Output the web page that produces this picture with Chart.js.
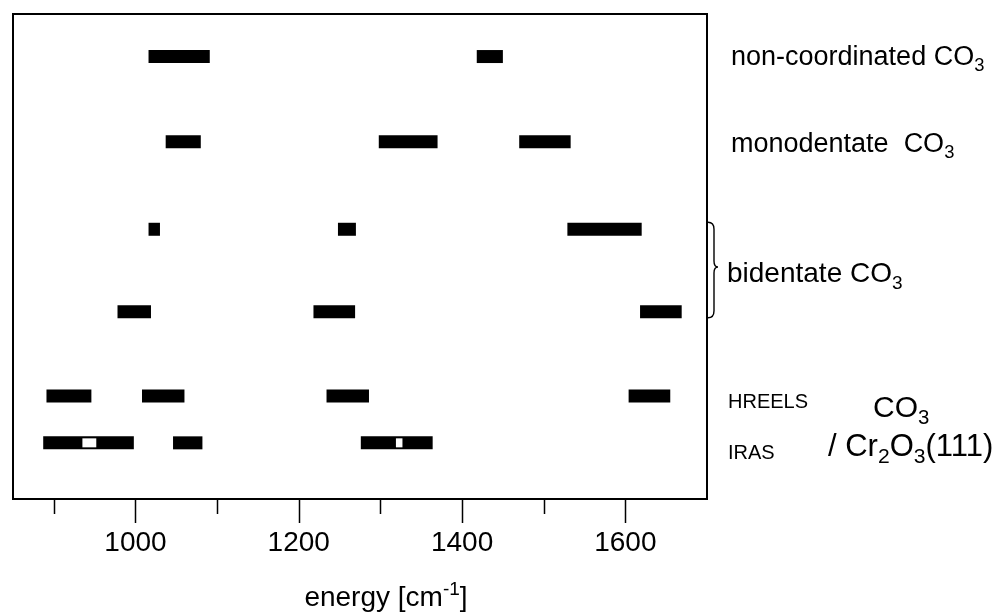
<!DOCTYPE html>
<html>
<head>
<meta charset="UTF-8">
<title>CO3 / Cr2O3(111) bands</title>
<script src="https://cdn.jsdelivr.net/npm/chart.js"></script>
<style>
  html, body { margin: 0; padding: 0; background: #fff; }
  #wrap { width: 1000px; height: 613px; }
</style>
</head>
<body>
<div id="wrap"><canvas id="bands"></canvas></div>
<script>
// band ranges in cm-1, [from, to], one list per row
const nonCoordinated = [[1016, 1091], [1418, 1450]];
const monodentate = [[1037, 1080], [1298, 1370], [1470, 1533]];
const bidentateA = [[1016, 1030], [1248, 1270], [1529, 1620]];
const bidentateB = [[978, 1019], [1218, 1269], [1618, 1669]];
const hreels = [[891, 946], [1008, 1060], [1234, 1286], [1604, 1655]];
const iras = [[887, 998], [1046, 1082], [1276, 1364]];
// small white windows inside the IRAS bands
const irasGaps = [[935, 952], [1319, 1327]];

// vertical slot of each row (top to bottom)
const rowPos = [5.2, 4.2, 3.17, 2.2, 1.21, 0.66];
const rowBands = [nonCoordinated, monodentate, bidentateA, bidentateB, hreels, iras];

const majorTicks = [1000, 1200, 1400, 1600];
const minorTicks = [900, 1100, 1300, 1500];

const FONT = '"Liberation Sans", Arial, Helvetica, sans-serif';

const bandPoints = [];
rowBands.forEach((bands, i) => {
    bands.forEach(b => bandPoints.push({ x: b, y: rowPos[i] }));
});
const gapPoints = irasGaps.map(g => ({ x: g, y: rowPos[5] }));

// text with sub/superscript parts: [[text, ''|'sub'|'sup'], ...]
function drawRich(ctx, x, y, parts, size) {
    ctx.textAlign = 'left';
    ctx.textBaseline = 'alphabetic';
    parts.forEach(([t, kind]) => {
        const s = kind ? size * 0.68 : size;
        const dy = kind === 'sub' ? size * 0.24 : (kind === 'sup' ? -size * 0.4 : 0);
        ctx.font = s + 'px ' + FONT;
        ctx.fillText(t, x, y + dy);
        x += ctx.measureText(t).width;
    });
    return x;
}

function richWidth(ctx, parts, size) {
    let w = 0;
    parts.forEach(([t, kind]) => {
        ctx.font = (kind ? size * 0.68 : size) + 'px ' + FONT;
        w += ctx.measureText(t).width;
    });
    return w;
}

const decorations = {
    id: 'decorations',
    afterDraw(chart) {
        const ctx = chart.ctx;
        const { left, right, top, bottom } = chart.chartArea;
        const xs = chart.scales.x;
        const ys = chart.scales.y;
        ctx.save();
        ctx.strokeStyle = '#000';
        ctx.fillStyle = '#000';

        // frame
        ctx.lineWidth = 2;
        ctx.strokeRect(left, top, right - left, bottom - top);

        // ticks below the axis
        ctx.lineWidth = 1.5;
        ctx.beginPath();
        majorTicks.forEach(v => {
            const px = Math.round(xs.getPixelForValue(v)) + 0.5;
            ctx.moveTo(px, bottom); ctx.lineTo(px, bottom + 24);
        });
        minorTicks.forEach(v => {
            const px = Math.round(xs.getPixelForValue(v)) + 0.5;
            ctx.moveTo(px, bottom); ctx.lineTo(px, bottom + 15);
        });
        ctx.stroke();

        // axis title
        const title = [['energy [cm', ''], ['-1', 'sup'], [']', '']];
        const tw = richWidth(ctx, title, 28);
        drawRich(ctx, (left + right) / 2 + 26 - tw / 2, 606, title, 28);

        // row labels
        const lx = right + 24;
        drawRich(ctx, lx, ys.getPixelForValue(rowPos[0]) + 8, [['non-coordinated CO', ''], ['3', 'sub']], 27);
        drawRich(ctx, lx, ys.getPixelForValue(rowPos[1]) + 10, [['monodentate  CO', ''], ['3', 'sub']], 27);

        // brace for the two bidentate rows
        const bt = ys.getPixelForValue(rowPos[2]) - 7;
        const bb = ys.getPixelForValue(rowPos[3]) + 6;
        const bm = (bt + bb) / 2 - 3;
        const xl = right + 1, xm = right + 7, xt = right + 11;
        ctx.lineWidth = 1.4;
        ctx.beginPath();
        ctx.moveTo(xl, bt);
        ctx.quadraticCurveTo(xm, bt, xm, bt + 7);
        ctx.lineTo(xm, bm - 6);
        ctx.quadraticCurveTo(xm, bm, xt, bm);
        ctx.quadraticCurveTo(xm, bm, xm, bm + 6);
        ctx.lineTo(xm, bb - 7);
        ctx.quadraticCurveTo(xm, bb, xl, bb);
        ctx.stroke();
        drawRich(ctx, right + 20, bm + 15, [['bidentate CO', ''], ['3', 'sub']], 28);

        // surface species group
        drawRich(ctx, right + 21, ys.getPixelForValue(rowPos[4]) + 12, [['HREELS', '']], 20);
        drawRich(ctx, right + 21, ys.getPixelForValue(rowPos[5]) + 16, [['IRAS', '']], 20);
        drawRich(ctx, 873, 417, [['CO', ''], ['3', 'sub']], 30);
        drawRich(ctx, 828, 456, [['/ Cr', ''], ['2', 'sub'], ['O', ''], ['3', 'sub'], ['(111)', '']], 31);

        ctx.restore();
    }
};

new Chart(document.getElementById('bands'), {
    type: 'bar',
    data: {
        datasets: [
            {
                data: bandPoints,
                backgroundColor: '#000',
                borderWidth: 0,
                borderSkipped: false,
                grouped: false,
                maxBarThickness: 13,
                order: 2
            },
            {
                data: gapPoints,
                backgroundColor: '#fff',
                borderWidth: 0,
                borderSkipped: false,
                grouped: false,
                maxBarThickness: 9,
                order: 1
            }
        ]
    },
    options: {
        indexAxis: 'y',
        responsive: true,
        maintainAspectRatio: false,
        animation: false,
        layout: { padding: { left: 13, right: 293, top: 14, bottom: 0 } },
        plugins: {
            legend: { display: false },
            tooltip: { enabled: false }
        },
        scales: {
            x: {
                type: 'linear',
                position: 'bottom',
                min: 850,
                max: 1700,
                grid: { display: false, drawTicks: false },
                border: { display: false },
                afterBuildTicks: s => { s.ticks = majorTicks.map(v => ({ value: v })); },
                afterFit: s => { s.height = 114; },
                ticks: {
                    padding: 27,
                    color: '#000',
                    maxRotation: 0,
                    font: { family: FONT, size: 28 },
                    callback: v => String(v)
                }
            },
            y: {
                type: 'linear',
                min: 0,
                max: 5.7,
                offset: false,
                display: false
            }
        }
    },
    plugins: [decorations]
});
</script>
</body>
</html>
